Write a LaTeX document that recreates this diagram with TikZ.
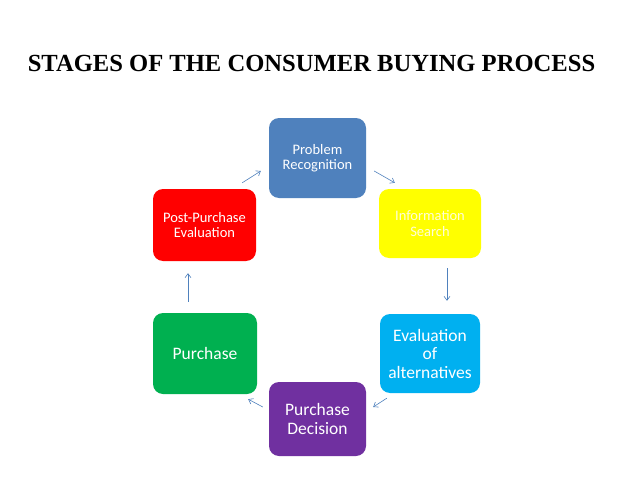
\documentclass[tikz,border=0pt]{standalone}
\usepackage{fontspec}
\setmainfont{Carlito}
\newfontfamily\titlefont{Liberation Serif}
\usetikzlibrary{arrows.meta,calc}
\definecolor{pblue}{HTML}{4F81BD}
\definecolor{pyellow}{HTML}{FFFF00}
\definecolor{pred}{HTML}{FF0000}
\definecolor{pgreen}{HTML}{00B050}
\definecolor{pcyan}{HTML}{00B0F0}
\definecolor{ppurple}{HTML}{7030A0}
\definecolor{arrowc}{HTML}{4F81BD}
\tikzset{
  stagebox/.style={rectangle, rounded corners=10pt, inner sep=0pt, align=center, text=white},
  smalltext/.style={font=\fontsize{14.5}{15.5}\selectfont},
  bigtext/.style={font=\fontsize{17.5}{18.5}\selectfont},
  arr/.style={draw=arrowc, line width=0.6pt, -{Straight Barb[length=4pt,width=6pt]}}
}
\begin{document}
\begin{tikzpicture}[x=1pt,y=-1pt]
\useasboundingbox[fill=white] (0,0) rectangle (638,479);
\node[anchor=base, font=\titlefont\bfseries\fontsize{24.6}{28}\selectfont] (title) at (311.5,71) {STAGES OF THE CONSUMER BUYING PROCESS};

\node[stagebox, smalltext, fill=pblue, minimum width=97pt, minimum height=80pt] (problem) at (317.5,158) {Problem\\Recognition};
\node[stagebox, smalltext, fill=pyellow, text=white!85!yellow, minimum width=102pt, minimum height=69pt] (info) at (430,223.5) {Information\\Search};
\node[stagebox, bigtext, fill=pcyan, minimum width=100pt, minimum height=79pt] (eval) at (430,353.5) {Evaluation\\of\\alternatives};
\node[stagebox, bigtext, fill=ppurple, minimum width=97pt, minimum height=74pt] (decision) at (317.5,419) {Purchase\\Decision};
\node[stagebox, bigtext, fill=pgreen, minimum width=104pt, minimum height=81pt] (purchase) at (205,353.5) {Purchase};
\node[stagebox, smalltext, fill=pred, minimum width=103pt, minimum height=72pt] (post) at (204.5,225) {Post-Purchase\\Evaluation};

\draw[arr] ($(post.north east)+(-14,-6)$) -- ($(problem.west)+(-8,13)$);
\draw[arr] ($(problem.east)+(8,13)$) -- ($(info.north west)+(16,-6)$);
\draw[arr] ($(info.south)+(17,10)$) -- ($(eval.north)+(17,-13)$);
\draw[arr] ($(eval.south west)+(7,5)$) -- ($(decision.east)+(7,-12)$);
\draw[arr] ($(decision.west)+(-6,-12)$) -- ($(purchase.south east)+(-9,5)$);
\draw[arr] ($(purchase.north)+(-17,-11)$) -- ($(post.south)+(-16.5,12)$);
\end{tikzpicture}
\end{document}
